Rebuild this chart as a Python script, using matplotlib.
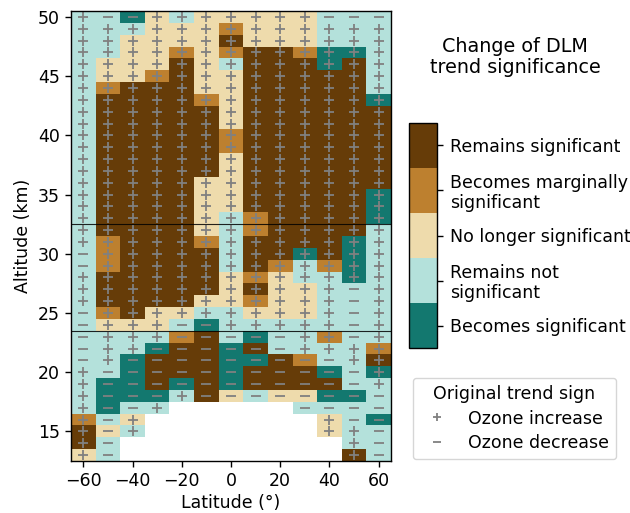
import numpy as np
import matplotlib
matplotlib.use("Agg")
import matplotlib.pyplot as plt
from matplotlib.colors import ListedColormap, BoundaryNorm
from matplotlib.cm import ScalarMappable

latitudes = np.arange(-60, 70, 10)
altitudes = np.arange(50, 12, -1)

# T becomes sig, L remains not sig, N no longer sig, M marginal, R remains sig, . no data
# rows run from 50 km down to 13 km
change_rows = [
    "LLTNLNNNNNLLL",
    "LLLNNNMNNNLLL",
    "LLNNNNRNNNLLL",
    "LLNNMNMRRMTTL",
    "LNNNRNLRRRTRL",
    "LNNMRNNRRRRRL",
    "LMRRRNNRRRRRL",
    "LRRRRMNRRRRRT",
    "LRRRRRNRRRRRR",
    "LRRRRRNRRRRRR",
    "LRRRRRMRRRRRR",
    "LRRRRRMRRRRRR",
    "LRRRRRNRRRRRR",
    "LRRRRRNRRRRRR",
    "LRRRRNNRRRRRR",
    "LRRRRNNRRRRRT",
    "LRRRRNNRRRRRT",
    "LRRRRNLMRRRRT",
    "LRRRRNLMRRRRL",
    "LMRRRMLRRRRTL",
    "LMRRRRLRRTRTL",
    "LMRRRRLRMLMTL",
    "LRRRRRNMNLLTL",
    "LRRRRRNRNNLLL",
    "LRRRRNNMNNLLL",
    "LMRNNLLNNNLLL",
    "LNNNLTLLLLLLL",
    "LLLLMRLTLLMLL",
    "LLLTRRTRLLLLM",
    "LLTRRRTTRMLLR",
    "LLTRRRTRRRTLT",
    "LTTRTRTRRRRLL",
    "LTTTLRNLNNTTL",
    "LTLL.....LLLL",
    "MLN.......NLT",
    "RNL.......NLL",
    "RL.........LL",
    "NL.........RL",
]

sign_rows = [
    "+--+++++++---",
    "+++++++++++++",
    "+++++++++++++",
    "+++++++++++++",
    "+++++++++++++",
    "+++++++++++++",
    "+++++++++++++",
    "+++++++++++++",
    "+++++++++++++",
    "+++++++++++++",
    "+++++++++++++",
    "+++++++++++++",
    "+++++++++++++",
    "+++++++++++++",
    "+++++++++++++",
    "+++++++++++++",
    "+++++++++++++",
    "+++++++++++++",
    "+++++++++++++",
    "+++++++++++++",
    "-++++++++++++",
    "-++++++++++++",
    "+++++++++++++",
    "+++++++++++-+",
    "+++++++++++-+",
    "-++++++++++-+",
    "-+++--+++++-+",
    "-+++-----++-+",
    "-++------++++",
    "-+---------++",
    "+-----------+",
    "+-----------+",
    "+---+--------",
    "+--+.....----",
    "+-+.......+--",
    "+-+.......++-",
    "+-.........+-",
    "+-.........+-",
]

change_labels = ["Becomes significant", "Remains not\nsignificant", "No longer significant",
                 "Becomes marginally\nsignificant", "Remains significant"]
change_colors = ["#13786f", "#b4e1db", "#eedbac", "#bd802f", "#663c08"]
codes = "TLNMR"
tropopause_lines = [32.5, 23.5]

grid = np.array([[codes.index(c) if c != "." else np.nan for c in row] for row in change_rows])
signs = np.array([list(row) for row in sign_rows])

cmap = ListedColormap(change_colors)
norm = BoundaryNorm(np.arange(-0.5, 5.5), cmap.N)

plt.rcParams["font.size"] = 12.5
plt.rcParams["axes.linewidth"] = 1.0
plt.rcParams["xtick.major.width"] = 1.0
plt.rcParams["ytick.major.width"] = 1.0
plt.rcParams["xtick.major.size"] = 4.4
plt.rcParams["ytick.major.size"] = 4.4

fig = plt.figure(figsize=(6.3, 5.13), dpi=100)
ax = fig.add_axes([71/630, 1 - 461/513, 320/630, 450/513])
ax.pcolormesh(latitudes, altitudes, np.ma.masked_invalid(grid), cmap=cmap, norm=norm, shading="nearest")

lon, alt = np.meshgrid(latitudes, altitudes)
inc, = ax.plot(lon[signs == "+"], alt[signs == "+"], "+", color="gray", ms=7, mew=1.3, label="Ozone increase")
dec, = ax.plot(lon[signs == "-"], alt[signs == "-"], "_", color="gray", ms=7, mew=1.3, label="Ozone decrease")

for y in tropopause_lines:
    ax.axhline(y, color="black", lw=0.8, alpha=0.85)

ax.set_xlim(-65, 65)
ax.set_ylim(12.5, 50.5)
ax.set_xticks(np.arange(-60, 61, 20))
ax.set_yticks(np.arange(15, 51, 5))
ax.set_xlabel("Latitude (°)", labelpad=3)
ax.set_ylabel("Altitude (km)", labelpad=4)

cax = fig.add_axes([409/630, 1 - 348/513, 28/630, 225/513])
cbar = fig.colorbar(ScalarMappable(norm=norm, cmap=cmap), cax=cax, ticks=np.arange(5))
cbar.minorticks_off()
cbar.outline.set_linewidth(1.0)
cbar.ax.tick_params(labelsize=12.5, pad=5)
cbar.ax.yaxis.set_ticklabels(change_labels, linespacing=1.1)

fig.text(515/630, 1 - 57/513, "Change of DLM\ntrend significance", ha="center", va="center",
         fontsize=13.8, linespacing=1.1)

fig.legend(handles=[inc, dec], title="Original trend sign", loc="center",
           bbox_to_anchor=(514.5/630, 1 - 418.5/513), markerscale=0.8,
           fontsize=12.5, title_fontsize=12.5, labelspacing=0.4, borderaxespad=0)

fig.savefig("out.png", dpi=100)
